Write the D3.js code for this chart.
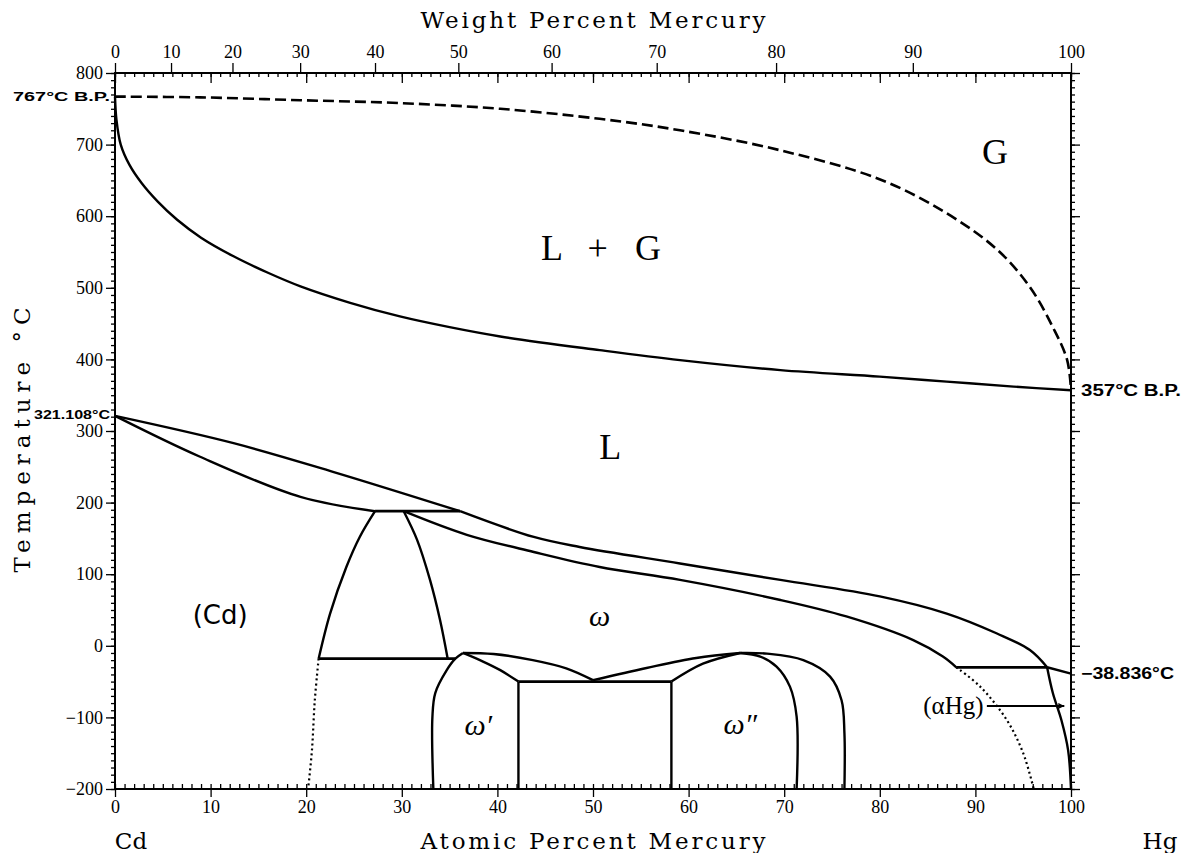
<!DOCTYPE html>
<html>
<head>
<meta charset="utf-8">
<script src="https://cdn.jsdelivr.net/npm/d3@7"></script>
<style>
  body { margin: 0; background: #fff; }
  .tick line { stroke: #000; stroke-width: 1.3; }
  .tick text { font-family: "Liberation Serif", serif; font-size: 18px; fill: #000; }
</style>
</head>
<body>
<div id="chart"></div>
<script>
// Cd-Hg phase diagram: x = atomic % Hg, y = temperature in C

var atomicTicks = [0, 10, 20, 30, 40, 50, 60, 70, 80, 90, 100];
var weightTicks = [0, 10, 20, 30, 40, 50, 60, 70, 80, 90, 100];
var tempTicks = [-200, -100, 0, 100, 200, 300, 400, 500, 600, 700, 800];
var massHg = 200.59, massCd = 112.41;

// L + G / G boundary (dashed)
var gasDew = [[0,767],[8.9,766],[19.4,762],[29.8,758],[40.3,750],[50.7,736],[59.1,720],[69.6,692],
  [80.1,651],[87,604],[92.3,553],[95.7,501],[98.1,445],[99.6,399],[100,357]];
// L / L + G boundary
var liquidBoil = [[0,767],[0.15,735],[0.6,700],[1.5,672],[2.8,646],[4.5,620],[6.5,595],[9,570],
  [12.4,544],[16,521],[19.4,502],[24.6,479],[29.8,460],[35,445],[40.3,432],[50.7,413],[59.1,399],
  [69.6,385],[80,376],[87,369],[94,362],[100,357]];
// liquidus and solidus lines
var liquidusCd = [[0,321.1],[12.4,283],[22.8,243],[36.1,188]];
var liquidusOmega = [[36.1,188],[43.8,152],[48.6,138],[59.1,115],[69.6,92],[80,69],[87,45],
  [92.2,17.5],[95.7,-6],[97.5,-30]];
var liquidusHg = [[97.5,-30],[100,-38.8]];
var solidusCd = [[0,321.1],[8.9,264],[19.4,208],[27.2,188]];
var solidusOmega = [[30.2,188],[36.8,155],[43.8,131],[50.7,110],[59.1,92],[69.6,64],[76.5,41],
  [83.5,8],[86.6,-15],[88,-30]];
// invariant horizontals
var peritectic188 = [[27.2,188],[36.1,188]];
var eutectoid18 = [[21.3,-18],[35.6,-18]];
var eutectoid50 = [[42.2,-50],[58.2,-50]];
var peritecticHg = [[88,-30],[97.5,-30]];
// solid-state boundaries
var cdSolvusLeft = [[21.3,-18],[22.5,45],[24.2,110],[25.6,152],[27.2,188]];
var omegaSolvusLeft = [[30.2,188],[31.6,148],[32.95,92],[34,36],[34.8,-18]];
var omega1Left = [[33.3,-200],[33.2,-100],[33.5,-66],[34.7,-34],[35.6,-18],[36.4,-10]];
var omega1Right = [[36.4,-10],[38.5,-22],[40.3,-34],[42.2,-50]];
var omega1Edge = [[42.2,-50],[42.2,-200]];
var omegaLowLeft = [[36.4,-10],[39.6,-11.5],[43.7,-20],[47.2,-31.5],[50,-48]];
var omegaLowRight = [[50,-48],[55.6,-31],[60.8,-17],[65.4,-10]];
var omega2Left = [[58.2,-50],[61.5,-25],[65.4,-10]];
var omega2Edge = [[58.2,-50],[58.2,-200]];
var omega2Inner = [[65.4,-10],[67.5,-15],[69.2,-29],[70.6,-57],[71.3,-99],[71.3,-200]];
var omega2Outer = [[65.4,-10],[68.2,-11],[72,-20],[74.8,-43],[76,-76],[76.3,-122],[76.3,-200]];
var alphaHgSolvus = [[97.5,-30],[98.1,-66],[99,-104],[99.7,-146],[100,-200]];
// dotted lines
var cdDotted = [[21.3,-18],[20.9,-76],[20.6,-146],[20.2,-200]];
var hgDotted = [[88,-30],[90.5,-57],[93.3,-104],[95,-150],[96.1,-200]];
var hgArrow = [[91.2,-84],[99.3,-84]];

var regionLabels = [
  {t: "G", x: 92.05, y: 690, size: 36, style: "normal"},
  {t: "L", x: 45.7, y: 556, size: 36, style: "normal"},
  {t: "+", x: 50.5, y: 556, size: 36, style: "normal"},
  {t: "G", x: 55.75, y: 556, size: 36, style: "normal"},
  {t: "L", x: 51.8, y: 278, size: 36, style: "normal"},
  {t: "ω", x: 50.7, y: 43, size: 30, style: "italic"},
  {t: "ω′", x: 38, y: -110, size: 30, style: "italic"},
  {t: "ω″", x: 65.4, y: -108, size: 30, style: "italic"},
  {t: "(αHg)", x: 87.7, y: -83, size: 25, style: "normal"}
];
var cdLabel = {t: "(Cd)", x: 11, y: 43};

var specialLeft = [{t: "767°C B.P.", y: 767, w: 97}, {t: "321.108°C", y: 323, w: 76}];
var specialRight = [{t: "357°C B.P.", y: 357, w: 100}, {t: "−38.836°C", y: -38.836, w: 93}];

var width = 1187, height = 853;
var svg = d3.select("#chart").append("svg")
  .attr("width", width)
  .attr("height", height);

var x = d3.scaleLinear().domain([0, 100]).range([115, 1071]);
var y = d3.scaleLinear().domain([-200, 800]).range([789, 73]);

function wtToAt(w) {
  if (w <= 0) return 0;
  if (w >= 100) return 100;
  var a = w / massHg, b = (100 - w) / massCd;
  return 100 * a / (a + b);
}

function noDomain(g) { g.select(".domain").remove(); }

// left axis
svg.append("g").attr("transform", "translate(115,0)")
  .call(d3.axisLeft(y).tickValues(d3.range(-200, 801, 10)).tickSize(4).tickFormat(""))
  .call(noDomain);
svg.append("g").attr("transform", "translate(115,0)")
  .call(d3.axisLeft(y).tickValues(tempTicks).tickSize(9).tickPadding(3))
  .call(noDomain);

// right axis
svg.append("g").attr("transform", "translate(1071,0)")
  .call(d3.axisRight(y).tickValues(d3.range(-200, 801, 10)).tickSize(4).tickFormat(""))
  .call(noDomain);
svg.append("g").attr("transform", "translate(1071,0)")
  .call(d3.axisRight(y).tickValues(tempTicks).tickSize(9).tickFormat(""))
  .call(noDomain);

// bottom axis
svg.append("g").attr("transform", "translate(0,789)")
  .call(d3.axisBottom(x).tickValues(d3.range(0, 101, 1)).tickSize(-5).tickFormat(""))
  .call(noDomain);
svg.append("g").attr("transform", "translate(0,789)")
  .call(d3.axisBottom(x).tickValues(atomicTicks).tickSize(8).tickPadding(3))
  .call(noDomain);

// top axis: atomic ticks inside, weight ticks outside
svg.append("g").attr("transform", "translate(0,73)")
  .call(d3.axisTop(x).tickValues(d3.range(0, 101, 1)).tickSize(-4).tickFormat(""))
  .call(noDomain);
svg.append("g").attr("transform", "translate(0,73)")
  .call(d3.axisTop(x).tickValues(atomicTicks).tickSize(-10).tickFormat(""))
  .call(noDomain);
svg.append("g").attr("transform", "translate(0,73)")
  .call(d3.axisTop(x).tickValues(weightTicks.map(wtToAt)).tickSize(10).tickPadding(5)
    .tickFormat(function(d, i) { return weightTicks[i]; }))
  .call(noDomain);

// frame
svg.append("rect")
  .attr("x", x(0)).attr("y", y(800))
  .attr("width", x(100) - x(0)).attr("height", y(-200) - y(800))
  .attr("fill", "none").attr("stroke", "#000").attr("stroke-width", 2);

// phase boundaries
var line = d3.line()
  .x(function(d) { return x(d[0]); })
  .y(function(d) { return y(d[1]); })
  .curve(d3.curveCatmullRom.alpha(0.5));

var solidLines = [liquidBoil, liquidusCd, liquidusOmega, liquidusHg, solidusCd, solidusOmega,
  cdSolvusLeft, omegaSolvusLeft, omega1Left, omega1Right, omega1Edge, omegaLowLeft, omegaLowRight,
  omega2Left, omega2Edge, omega2Inner, omega2Outer, alphaHgSolvus];

svg.append("g").selectAll("path")
  .data(solidLines)
  .enter().append("path")
  .attr("d", line)
  .attr("fill", "none")
  .attr("stroke", "#000")
  .attr("stroke-width", 2.4)
  .attr("stroke-linejoin", "round");

svg.append("g").selectAll("path")
  .data([peritectic188, eutectoid18, eutectoid50, peritecticHg])
  .enter().append("path")
  .attr("d", line)
  .attr("fill", "none")
  .attr("stroke", "#000")
  .attr("stroke-width", 2.8);

svg.append("path")
  .attr("d", line(gasDew))
  .attr("fill", "none")
  .attr("stroke", "#000")
  .attr("stroke-width", 2.6)
  .attr("stroke-dasharray", "11,5");

svg.append("g").selectAll("path")
  .data([cdDotted, hgDotted])
  .enter().append("path")
  .attr("d", line)
  .attr("fill", "none")
  .attr("stroke", "#000")
  .attr("stroke-width", 2.2)
  .attr("stroke-dasharray", "2,3");

// arrow to (aHg)
svg.append("defs").append("marker")
  .attr("id", "head")
  .attr("viewBox", "0 0 10 10")
  .attr("refX", 10).attr("refY", 5)
  .attr("markerWidth", 13).attr("markerHeight", 6)
  .attr("markerUnits", "userSpaceOnUse")
  .attr("orient", "auto")
  .append("path").attr("d", "M0,0L10,5L0,10Z").attr("fill", "#000");

svg.append("path")
  .attr("d", d3.line().x(function(d) { return x(d[0]); }).y(function(d) { return y(d[1]); })(hgArrow))
  .attr("stroke", "#000")
  .attr("stroke-width", 2)
  .attr("marker-end", "url(#head)");

// region labels
svg.append("g").selectAll("text")
  .data(regionLabels)
  .enter().append("text")
  .attr("x", function(d) { return x(d.x); })
  .attr("y", function(d) { return y(d.y); })
  .attr("dy", "0.35em")
  .attr("text-anchor", "middle")
  .style("font-family", "'Liberation Serif', serif")
  .style("font-size", function(d) { return d.size + "px"; })
  .style("font-style", function(d) { return d.style; })
  .text(function(d) { return d.t; });

svg.append("text")
  .attr("x", x(cdLabel.x))
  .attr("y", y(cdLabel.y))
  .attr("dy", "0.35em")
  .attr("text-anchor", "middle")
  .style("font-family", "'DejaVu Sans', sans-serif")
  .style("font-size", "26px")
  .text(cdLabel.t);

// special temperatures
svg.append("g").selectAll("text")
  .data(specialLeft)
  .enter().append("text")
  .attr("x", x(0) - 5)
  .attr("y", function(d) { return y(d.y); })
  .attr("dy", "0.35em")
  .attr("text-anchor", "end")
  .attr("textLength", function(d) { return d.w; })
  .attr("lengthAdjust", "spacingAndGlyphs")
  .style("font-family", "'Liberation Sans', sans-serif")
  .style("font-weight", "bold")
  .style("font-size", "13px")
  .text(function(d) { return d.t; });

svg.append("g").selectAll("text")
  .data(specialRight)
  .enter().append("text")
  .attr("x", x(100) + 10)
  .attr("y", function(d) { return y(d.y); })
  .attr("dy", "0.35em")
  .attr("textLength", function(d) { return d.w; })
  .attr("lengthAdjust", "spacingAndGlyphs")
  .style("font-family", "'Liberation Sans', sans-serif")
  .style("font-weight", "bold")
  .style("font-size", "16px")
  .text(function(d) { return d.t; });

// axis titles
var titleFont = "'DejaVu Serif', serif";
svg.append("text")
  .attr("x", 593).attr("y", 28)
  .attr("text-anchor", "middle")
  .attr("textLength", 345).attr("lengthAdjust", "spacing")
  .style("font-family", titleFont).style("font-size", "23px")
  .text("Weight Percent Mercury");

svg.append("text")
  .attr("x", 593).attr("y", 849)
  .attr("text-anchor", "middle")
  .attr("textLength", 345).attr("lengthAdjust", "spacing")
  .style("font-family", titleFont).style("font-size", "23px")
  .text("Atomic Percent Mercury");

svg.append("text")
  .attr("transform", "translate(30,440) rotate(-90)")
  .attr("text-anchor", "middle")
  .attr("textLength", 265).attr("lengthAdjust", "spacing")
  .style("font-family", titleFont).style("font-size", "23px")
  .text("Temperature °C");

svg.append("text")
  .attr("x", 131).attr("y", 849)
  .attr("text-anchor", "middle")
  .style("font-family", titleFont).style("font-size", "23px")
  .text("Cd");

svg.append("text")
  .attr("x", 1160).attr("y", 849)
  .attr("text-anchor", "middle")
  .style("font-family", titleFont).style("font-size", "23px")
  .text("Hg");
</script>
</body>
</html>
